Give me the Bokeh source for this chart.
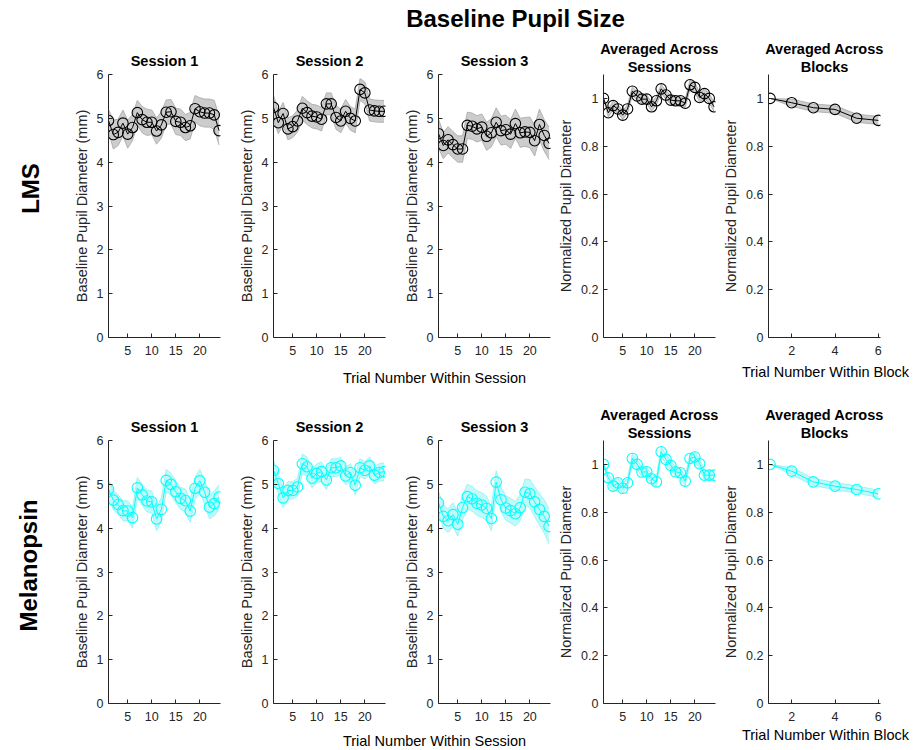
import numpy as np
from bokeh.plotting import figure
from bokeh.layouts import row, column
from bokeh.models import Range1d, FixedTicker, Label, Title
from bokeh.core.properties import value
from bokeh.embed import file_html
from bokeh.resources import INLINE

# ---------------- data ----------------
trials = list(range(1, 25))
blocks = [1, 2, 3, 4, 5, 6]

session_xticks = [5, 10, 15, 20]
session_yticks = [0, 1, 2, 3, 4, 5, 6]
norm_yticks = [0, 0.2, 0.4, 0.6, 0.8, 1]
norm_ylabels = ["0", "0.2", "0.4", "0.6", "0.8", "1"]
block_xticks = [2, 4, 6]

lms_s1 = [4.95, 4.63, 4.68, 4.89, 4.64, 4.79, 5.13, 4.97, 4.91, 4.91, 4.71, 4.85,
          5.14, 5.15, 4.93, 4.91, 4.79, 4.83, 5.22, 5.15, 5.12, 5.12, 5.08, 4.72]
lms_s1_sem = [0.25, 0.33, 0.3, 0.3, 0.32, 0.3, 0.28, 0.3, 0.3, 0.28, 0.3, 0.3,
              0.28, 0.28, 0.3, 0.3, 0.3, 0.3, 0.3, 0.32, 0.32, 0.32, 0.33, 0.33]
lms_s2 = [5.25, 4.9, 5.11, 4.76, 4.81, 4.94, 5.23, 5.13, 5.05, 5.03, 4.98, 5.33,
          5.33, 5.02, 4.94, 5.16, 5.0, 4.94, 5.66, 5.58, 5.19, 5.17, 5.16, 5.16]
lms_s2_sem = [0.28, 0.25, 0.25, 0.25, 0.25, 0.25, 0.27, 0.27, 0.27, 0.27, 0.27, 0.25,
              0.25, 0.27, 0.27, 0.27, 0.27, 0.27, 0.25, 0.25, 0.25, 0.25, 0.25, 0.25]
lms_s3 = [4.65, 4.38, 4.51, 4.40, 4.30, 4.30, 4.84, 4.82, 4.76, 4.80, 4.59, 4.67,
          4.91, 4.72, 4.74, 4.64, 4.88, 4.67, 4.69, 4.68, 4.49, 4.86, 4.61, 4.43]
lms_s3_sem = [0.33, 0.3, 0.3, 0.3, 0.3, 0.3, 0.3, 0.3, 0.3, 0.3, 0.32, 0.32,
              0.33, 0.33, 0.33, 0.33, 0.33, 0.33, 0.33, 0.35, 0.35, 0.35, 0.36, 0.37]
lms_avg = [1.0, 0.94, 0.97, 0.956, 0.93, 0.956, 1.03, 1.01, 0.997, 0.997, 0.965, 0.99,
           1.04, 1.014, 0.993, 0.99, 0.99, 0.98, 1.057, 1.046, 1.004, 1.02, 1.0, 0.965]
lms_avg_sem = [0.0, 0.018, 0.018, 0.018, 0.018, 0.018, 0.018, 0.018, 0.018, 0.018, 0.018, 0.018,
               0.018, 0.018, 0.018, 0.018, 0.018, 0.018, 0.02, 0.02, 0.02, 0.02, 0.02, 0.02]
lms_blk = [1.0, 0.982, 0.961, 0.954, 0.917, 0.908]
lms_blk_sem = [0.0, 0.015, 0.016, 0.016, 0.017, 0.017]

mel_s1 = [4.89, 4.64, 4.54, 4.40, 4.39, 4.24, 4.92, 4.76, 4.62, 4.60, 4.21, 4.43,
          5.09, 5.0, 4.83, 4.68, 4.63, 4.39, 4.91, 5.08, 4.82, 4.48, 4.56, 4.71]
mel_s1_sem = [0.22, 0.22, 0.22, 0.23, 0.23, 0.24, 0.24, 0.24, 0.25, 0.25, 0.27, 0.27,
              0.25, 0.25, 0.25, 0.25, 0.26, 0.26, 0.26, 0.26, 0.27, 0.27, 0.28, 0.28]
mel_s2 = [5.32, 5.02, 4.69, 4.86, 4.86, 4.94, 5.47, 5.40, 5.14, 5.25, 5.29, 5.10,
          5.38, 5.38, 5.42, 5.19, 5.27, 4.98, 5.38, 5.32, 5.42, 5.21, 5.27, 5.29]
mel_s2_sem = [0.22, 0.22, 0.22, 0.2, 0.2, 0.2, 0.22, 0.22, 0.22, 0.22, 0.22, 0.22,
              0.2, 0.2, 0.2, 0.2, 0.2, 0.22, 0.2, 0.2, 0.2, 0.2, 0.2, 0.2]
mel_s3 = [4.58, 4.27, 4.17, 4.31, 4.09, 4.47, 4.72, 4.67, 4.57, 4.53, 4.45, 4.22,
          5.05, 4.65, 4.46, 4.40, 4.33, 4.47, 4.82, 4.79, 4.60, 4.43, 4.27, 4.04]
mel_s3_sem = [0.25, 0.27, 0.27, 0.27, 0.27, 0.28, 0.28, 0.28, 0.28, 0.28, 0.28, 0.28,
              0.26, 0.28, 0.28, 0.28, 0.28, 0.3, 0.3, 0.32, 0.34, 0.36, 0.38, 0.4]
mel_avg = [1.0, 0.944, 0.909, 0.923, 0.90, 0.923, 1.025, 1.0, 0.968, 0.969, 0.94, 0.927,
           1.053, 1.021, 0.996, 0.969, 0.965, 0.93, 1.025, 1.031, 1.003, 0.955, 0.955, 0.955]
mel_avg_sem = [0.0, 0.02, 0.02, 0.02, 0.02, 0.02, 0.02, 0.02, 0.02, 0.02, 0.02, 0.02,
               0.02, 0.02, 0.02, 0.02, 0.02, 0.02, 0.02, 0.02, 0.02, 0.02, 0.02, 0.02]
mel_blk = [1.0, 0.972, 0.927, 0.909, 0.895, 0.877]
mel_blk_sem = [0.0, 0.015, 0.015, 0.015, 0.015, 0.015]

# ---------------- style ----------------
FONT = "Liberation Sans"
AX = "#262626"
TICK_FS = "12.5px"
LABEL_FS = "14.5px"
TITLE_FS = "14.5px"
BIG_FS = "24px"

LMS_STYLE = dict(line="black", fill="#cccccc", edge="#a6a6a6")
MEL_STYLE = dict(line="#00ffff", fill="#c2f9f9", edge="#8ef3f3")

FRAME_W = 112
FRAME_H = 263
PAGE_W = 914
LEFT_B = 50
RIGHT_B = 3
TOP_B = 40
BOTTOM_B = 24


def blank(width, height, xr, yr, top=0, bottom=0):
    p = figure(frame_width=width, frame_height=height, x_range=xr, y_range=yr,
               min_border_left=0, min_border_right=0, min_border_top=top,
               min_border_bottom=bottom,
               x_axis_location=None, y_axis_location=None, title=None,
               toolbar_location=None, output_backend="svg")
    p.xgrid.visible = False
    p.ygrid.visible = False
    p.outline_line_color = None
    return p


def text_label(p, x, y, txt, size, bold=False):
    p.add_layout(Label(x=x, y=y, text=txt, text_align="center",
                       text_baseline="middle", text_font=FONT, text_font_size=size,
                       text_font_style="bold" if bold else "normal", text_color="black"))


def make_title(txt, standoff):
    return Title(text=txt, align="center", text_font=FONT, text_font_size=TITLE_FS,
                 text_font_style="bold", text_color="black", standoff=standoff)


def panel(title_lines, xs, ys, sems, style, xr, yr, xticks, yticks, ylabel,
          right=RIGHT_B, ylabel_overrides=None):
    p = figure(frame_width=FRAME_W, frame_height=FRAME_H, x_range=xr, y_range=yr,
               min_border_left=LEFT_B, min_border_right=right, min_border_top=TOP_B,
               min_border_bottom=BOTTOM_B, toolbar_location=None, output_backend="svg",
               title=None)
    # titles: first added sits closest to the frame
    if len(title_lines) == 1:
        p.add_layout(make_title(title_lines[0], 11), "above")
    else:
        p.add_layout(make_title(title_lines[1], 0), "above")
        p.add_layout(make_title(title_lines[0], 0), "above")
    p.xgrid.visible = False
    p.ygrid.visible = False
    p.outline_line_color = None

    lo = [m - s for m, s in zip(ys, sems)]
    hi = [m + s for m, s in zip(ys, sems)]
    p.varea(x=xs, y1=lo, y2=hi, fill_color=style["fill"], fill_alpha=1.0)
    p.line(x=xs, y=lo, line_color=style["edge"], line_width=0.8)
    p.line(x=xs, y=hi, line_color=style["edge"], line_width=0.8)
    p.line(x=xs, y=ys, line_color=style["line"], line_width=1.0)
    p.scatter(x=xs, y=ys, marker="circle", size=10.5, line_color=style["line"],
              line_width=1.1, fill_alpha=0.0)

    for ax in (p.xaxis[0], p.yaxis[0]):
        ax.axis_line_color = AX
        ax.axis_line_width = 1
        ax.major_tick_line_color = AX
        ax.major_tick_in = 4
        ax.major_tick_out = 0
        ax.minor_tick_line_color = None
        ax.major_label_text_font = FONT
        ax.major_label_text_font_size = TICK_FS
        ax.major_label_text_color = AX
        ax.axis_label_text_font = FONT
        ax.axis_label_text_font_size = LABEL_FS
        ax.axis_label_text_font_style = "normal"
        ax.axis_label_text_color = AX
        ax.axis_label_standoff = 4
    p.xaxis[0].major_label_standoff = 8
    p.yaxis[0].major_label_standoff = 5
    p.xaxis[0].ticker = FixedTicker(ticks=xticks)
    p.yaxis[0].ticker = FixedTicker(ticks=yticks)
    if ylabel_overrides:
        p.yaxis[0].major_label_overrides = ylabel_overrides
    p.yaxis[0].axis_label = ylabel
    return p


def session_range():
    return Range1d(1, 24.3)


norm_over = {t: l for t, l in zip(norm_yticks, norm_ylabels)}
ROW_H = TOP_B + FRAME_H + BOTTOM_B
LABEL_W = 58
LAST_RIGHT = PAGE_W - (LABEL_W + 4 * (LEFT_B + FRAME_W + RIGHT_B) + LEFT_B + FRAME_W)


def build_row(label_text, label_x, label_y, top, series, style):
    (s1, e1), (s2, e2), (s3, e3), (av, eav), (bk, ebk) = series
    ftop = top + TOP_B
    # same vertical borders as the panels, so that its frame lines up with theirs
    lab = blank(LABEL_W, FRAME_H, Range1d(0, LABEL_W), Range1d(ftop + FRAME_H, ftop),
                top=TOP_B, bottom=BOTTOM_B)
    lab.text(x=[label_x], y=[label_y], text=[label_text], angle=np.pi / 2,
             text_align="center", text_baseline="middle", text_font=value(FONT),
             text_font_size=BIG_FS, text_font_style="bold", text_color="black")
    figs = [lab]
    for i, (m, e) in enumerate([(s1, e1), (s2, e2), (s3, e3)]):
        figs.append(panel(["Session %d" % (i + 1)], trials, m, e, style, session_range(),
                          Range1d(0, 6), session_xticks, session_yticks,
                          "Baseline Pupil Diameter (mm)"))
    figs.append(panel(["Averaged Across", "Sessions"], trials, av, eav, style, session_range(),
                      Range1d(0, 1.1), session_xticks, norm_yticks,
                      "Normalized Pupil Diameter", ylabel_overrides=norm_over))
    figs.append(panel(["Averaged Across", "Blocks"], blocks, bk, ebk, style, Range1d(0.93, 6.1),
                      Range1d(0, 1.1), block_xticks, norm_yticks,
                      "Normalized Pupil Diameter", right=LAST_RIGHT,
                      ylabel_overrides=norm_over))
    return row(*figs)


ROW1_TOP = 34
ROW2_TOP = 400
STRIP1_TOP = ROW1_TOP + ROW_H
STRIP2_TOP = ROW2_TOP + ROW_H
PAGE_H = 750

# title strip, in page pixel coordinates
title_fig = blank(PAGE_W, ROW1_TOP, Range1d(0, PAGE_W), Range1d(ROW1_TOP, 0))
text_label(title_fig, 515, 18, "Baseline Pupil Size", BIG_FS, bold=True)

row1 = build_row("LMS", 30, 188, ROW1_TOP,
                 [(lms_s1, lms_s1_sem), (lms_s2, lms_s2_sem), (lms_s3, lms_s3_sem),
                  (lms_avg, lms_avg_sem), (lms_blk, lms_blk_sem)], LMS_STYLE)

strip1 = blank(PAGE_W, ROW2_TOP - STRIP1_TOP, Range1d(0, PAGE_W), Range1d(ROW2_TOP, STRIP1_TOP))
text_label(strip1, 434, 377, "Trial Number Within Session", LABEL_FS)
text_label(strip1, 825, 371, "Trial Number Within Block", LABEL_FS)

row2 = build_row("Melanopsin", 28, 565, ROW2_TOP,
                 [(mel_s1, mel_s1_sem), (mel_s2, mel_s2_sem), (mel_s3, mel_s3_sem),
                  (mel_avg, mel_avg_sem), (mel_blk, mel_blk_sem)], MEL_STYLE)

strip2 = blank(PAGE_W, PAGE_H - STRIP2_TOP, Range1d(0, PAGE_W), Range1d(PAGE_H, STRIP2_TOP))
text_label(strip2, 434, 740, "Trial Number Within Session", LABEL_FS)
text_label(strip2, 825, 734, "Trial Number Within Block", LABEL_FS)

layout = column(title_fig, row1, strip1, row2, strip2)

open("out.html", "w").write(file_html(layout, INLINE))
